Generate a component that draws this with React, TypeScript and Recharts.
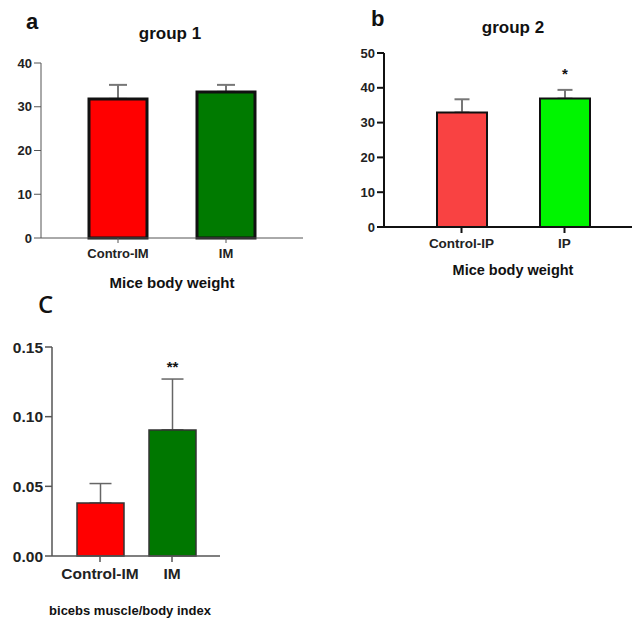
import React from "react";
import { BarChart, Bar, XAxis, YAxis, ErrorBar, Cell, LabelList, Label } from "recharts";

// panel a – group 1, mice body weight
const groupOneLabels = ["Contro-IM", "IM"];
const groupOneMeans = [31.8, 33.4];
const groupOneErrors = [3.2, 1.6];

// panel b – group 2, mice body weight
const groupTwoLabels = ["Control-IP", "IP"];
const groupTwoMeans = [32.9, 36.9];
const groupTwoErrors = [3.8, 2.5];
const groupTwoSig = ["", "*"];

// panel c – biceps muscle / body index
const indexLabels = ["Control-IM", "IM"];
const indexMeans = [0.038, 0.0905];
const indexErrors = [0.014, 0.0365];
const indexSig = ["", "**"];

const FONT = "'Liberation Sans', Arial, sans-serif";

const build = (labels: string[], means: number[], errors: number[], sig?: string[]) =>
  labels.map((name, i) => ({
    name,
    value: means[i],
    err: [0, errors[i]],
    sig: sig ? sig[i] : "",
  }));

const dataA = build(groupOneLabels, groupOneMeans, groupOneErrors);
const dataB = build(groupTwoLabels, groupTwoMeans, groupTwoErrors, groupTwoSig);
const dataC = build(indexLabels, indexMeans, indexErrors, indexSig);

const tickStyle = (size: number) => ({ fontFamily: FONT, fontSize: size, fontWeight: 700, fill: "#222" });

function TextBox({ left, top, width, size, weight = 700, family = FONT, children }: any) {
  return (
    <div
      style={{
        position: "absolute",
        left,
        top,
        width,
        textAlign: width ? "center" : "left",
        fontFamily: family,
        fontSize: size,
        fontWeight: weight,
        lineHeight: 1,
        color: "#111",
        whiteSpace: "nowrap",
      }}
    >
      {children}
    </div>
  );
}

export default function App() {
  return (
    <div style={{ position: "absolute", left: 0, top: 0, width: 632, height: 619, background: "#fff", overflow: "hidden" }}>
      <TextBox left={26} top={11} size={22}>a</TextBox>
      <TextBox left={110} top={25} width={120} size={17}>group 1</TextBox>

      <div style={{ position: "absolute", left: 0, top: 0 }}>
        <BarChart width={320} height={300} data={dataA} barGap={-58} margin={{ top: 63, right: 17, bottom: 2, left: 0 }}>
          <YAxis
            width={41}
            domain={[0, 40]}
            ticks={[0, 10, 20, 30, 40]}
            tick={tickStyle(13)}
            tickSize={7}
            tickMargin={2}
            stroke="#555"
          />
          <XAxis
            dataKey="name"
            height={60}
            padding={{ left: 23, right: 23 }}
            tick={tickStyle(13)}
            tickSize={5}
            tickMargin={6}
            stroke="#555"
          >
            <Label value="Mice body weight" position="insideBottom" offset={10} style={{ fontFamily: FONT, fontSize: 15, fontWeight: 700, fill: "#111" }} />
          </XAxis>
          <Bar dataKey="value" barSize={58} fill="none" stroke="none" isAnimationActive={false}>
            <ErrorBar dataKey="err" direction="y" width={9} stroke="#777" strokeWidth={2} zIndex={250} />
          </Bar>
          <Bar dataKey="value" barSize={58} stroke="#111" strokeWidth={3} isAnimationActive={false}>
            <Cell fill="#ff0000" />
            <Cell fill="#007a00" />
          </Bar>
        </BarChart>
      </div>

      <TextBox left={371} top={8} size={22}>b</TextBox>
      <TextBox left={453} top={19} width={120} size={17}>group 2</TextBox>

      <div style={{ position: "absolute", left: 330, top: 0 }}>
        <BarChart width={302} height={290} data={dataB} barGap={-50} margin={{ top: 53, right: 0, bottom: 3, left: 0 }}>
          <YAxis
            width={54}
            domain={[0, 50]}
            ticks={[0, 10, 20, 30, 40, 50]}
            tick={tickStyle(13)}
            tickSize={7}
            tickMargin={2}
            stroke="#111"
            strokeWidth={2}
          />
          <XAxis
            dataKey="name"
            height={60}
            padding={{ left: 26, right: 16 }}
            tick={tickStyle(13.5)}
            tickSize={6}
            tickMargin={5}
            stroke="#111"
            strokeWidth={2}
          >
            <Label value="Mice body weight" position="insideBottom" offset={12} dx={5} style={{ fontFamily: FONT, fontSize: 14.5, fontWeight: 700, fill: "#111" }} />
          </XAxis>
          <Bar dataKey="value" barSize={50} fill="none" stroke="none" isAnimationActive={false}>
            <ErrorBar dataKey="err" direction="y" width={7.5} stroke="#777" strokeWidth={2} zIndex={250} />
            <LabelList dataKey="sig" position="top" offset={20} style={{ fontFamily: FONT, fontSize: 15, fontWeight: 700, fill: "#111" }} />
          </Bar>
          <Bar dataKey="value" barSize={50} stroke="#111" strokeWidth={2} isAnimationActive={false}>
            <Cell fill="#f94242" />
            <Cell fill="#00f500" />
          </Bar>
        </BarChart>
      </div>

      <TextBox left={38} top={292} size={24} weight={600} family="'Open Sans', sans-serif">C</TextBox>

      <div style={{ position: "absolute", left: 0, top: 290 }}>
        <BarChart width={240} height={329} data={dataC} barGap={-47} margin={{ top: 57, right: 20, bottom: 3, left: 0 }}>
          <YAxis
            width={52}
            domain={[0, 0.15]}
            ticks={[0, 0.05, 0.1, 0.15]}
            tickFormatter={(v: number) => v.toFixed(2)}
            tick={tickStyle(15.5)}
            tickSize={7}
            tickMargin={2}
            stroke="#555"
            strokeWidth={1.5}
          />
          <XAxis
            dataKey="name"
            height={60}
            padding={{ left: 12, right: 12 }}
            tick={tickStyle(15.5)}
            tickSize={6}
            tickMargin={6}
            stroke="#555"
            strokeWidth={1.5}
          >
            <Label value="bicebs muscle/body index" position="insideBottom" offset={1} dx={-6} style={{ fontFamily: FONT, fontSize: 13, fontWeight: 700, fill: "#111" }} />
          </XAxis>
          <Bar dataKey="value" barSize={47} fill="none" stroke="none" isAnimationActive={false}>
            <ErrorBar dataKey="err" direction="y" width={11} stroke="#666" strokeWidth={1.5} zIndex={250} />
            <LabelList dataKey="sig" position="top" offset={58} style={{ fontFamily: FONT, fontSize: 15, fontWeight: 700, fill: "#111" }} />
          </Bar>
          <Bar dataKey="value" barSize={47} stroke="#333" strokeWidth={1.5} isAnimationActive={false}>
            <Cell fill="#ff0000" />
            <Cell fill="#007700" />
          </Bar>
        </BarChart>
      </div>
    </div>
  );
}
